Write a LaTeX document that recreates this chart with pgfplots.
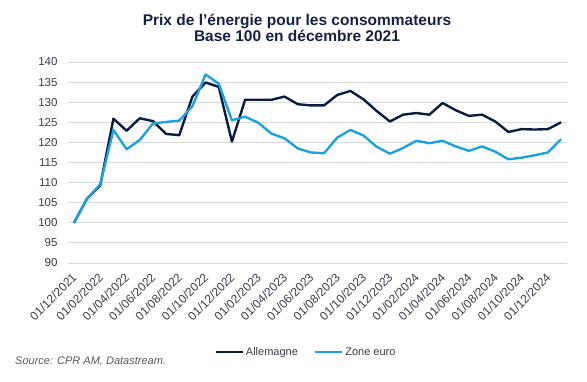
\documentclass[border=0pt]{standalone}
\usepackage{pgfplots}
\pgfplotsset{compat=1.18}
\usepackage{fontspec}
\setmainfont{Liberation Sans}
\definecolor{navy}{RGB}{12,27,66}
\definecolor{sky}{RGB}{28,163,220}
\definecolor{gridc}{RGB}{217,217,217}
\definecolor{tickc}{RGB}{60,60,72}
\definecolor{srcc}{RGB}{89,89,89}
\definecolor{ttl}{RGB}{22,33,70}

\begin{document}
\begin{tikzpicture}
\path[use as bounding box] (0,0) rectangle (587pt,381pt);
\begin{axis}[
  at={(68pt,118pt)}, anchor=south west,
  scale only axis, width=499pt, height=201pt,
  xmin=-0.45, xmax=37.45, ymin=90, ymax=140,
  ytick={90,95,...,140},
  xtick={0,2,...,36},
  xticklabels={01/12/2021,01/02/2022,01/04/2022,01/06/2022,01/08/2022,01/10/2022,01/12/2022,01/02/2023,01/04/2023,01/06/2023,01/08/2023,01/10/2023,01/12/2023,01/02/2024,01/04/2024,01/06/2024,01/08/2024,01/10/2024,01/12/2024},
  axis line style={draw=none},
  major tick length=0pt,
  ymajorgrids, grid style={gridc, line width=1pt},
  /pgf/number format/assume math mode=true,
  yticklabel style={anchor=east, xshift=-7pt, font=\fontsize{11.5}{13}\selectfont, text=tickc},
  xticklabel style={xshift=3pt, yshift=-10pt, rotate=45, anchor=east, font=\fontsize{12}{13}\selectfont, text=tickc},
  legend style={at={(0.477,-0.443)}, anchor=center, draw=none, fill=none, legend columns=2, font=\fontsize{11}{13}\selectfont, text=tickc, /tikz/every even column/.append style={column sep=14pt}},
  legend image code/.code={\draw[#1] (0pt,0pt) -- (27pt,0pt);},
]
\addplot[navy, line width=2.4pt, line join=round] coordinates {
(0,100) (1,106) (2,109.3) (3,125.9) (4,122.9) (5,126.0) (6,125.3) (7,122.1) (8,121.8) (9,131.4)
(10,134.9) (11,133.8) (12,120.2) (13,130.6) (14,130.6) (15,130.6) (16,131.4) (17,129.5) (18,129.2) (19,129.2)
(20,131.8) (21,132.8) (22,130.7) (23,127.8) (24,125.2) (25,126.9) (26,127.3) (27,126.9) (28,129.8) (29,128.0)
(30,126.6) (31,126.9) (32,125.2) (33,122.6) (34,123.3) (35,123.2) (36,123.3) (37,125.0)
};
\addlegendentry{Allemagne}
\addplot[sky, line width=2.4pt, line join=round] coordinates {
(0,100) (1,106) (2,109.6) (3,123.1) (4,118.3) (5,120.6) (6,124.7) (7,125.1) (8,125.4) (9,129.0)
(10,136.9) (11,134.6) (12,125.5) (13,126.4) (14,124.9) (15,122.2) (16,121.0) (17,118.5) (18,117.5) (19,117.3)
(20,121.2) (21,123.1) (22,121.7) (23,118.9) (24,117.2) (25,118.6) (26,120.4) (27,119.8) (28,120.4) (29,119.0)
(30,117.9) (31,119.0) (32,117.7) (33,115.8) (34,116.2) (35,116.8) (36,117.5) (37,120.8)
};
\addlegendentry{Zone euro}
\end{axis}
\node[anchor=base, font=\bfseries\fontsize{15.5}{17}\selectfont, text=ttl] at (297pt,355pt) {Prix de l'énergie pour les consommateurs};
\node[anchor=base, font=\bfseries\fontsize{15.5}{17}\selectfont, text=ttl] at (297pt,339pt) {Base 100 en décembre 2021};
\node[anchor=west, inner sep=0pt, font=\itshape\fontsize{11}{13}\selectfont, text=srcc] at (15pt,19.5pt) {Source: CPR AM, Datastream.};
\end{tikzpicture}
\end{document}
